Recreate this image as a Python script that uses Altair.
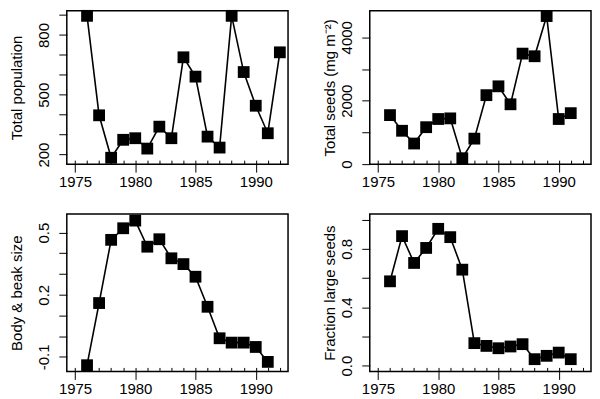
import altair as alt
import pandas as pd

years_a = [1976, 1977, 1978, 1979, 1980, 1981, 1982, 1983, 1984, 1985, 1986, 1987, 1988, 1989, 1990, 1991, 1992]
population = [896, 397, 184, 274, 282, 230, 340, 282, 688, 591, 290, 235, 896, 614, 445, 307, 713]

years_b = [1976, 1977, 1978, 1979, 1980, 1981, 1982, 1983, 1984, 1985, 1986, 1987, 1988, 1989, 1990, 1991]
seeds = [1546, 1052, 650, 1165, 1423, 1443, 186, 804, 2175, 2454, 1887, 3485, 3402, 4670, 1423, 1608]
body_beak = [-0.140, 0.160, 0.465, 0.521, 0.558, 0.432, 0.468, 0.376, 0.348, 0.287, 0.142, -0.010, -0.031, -0.031, -0.052, -0.124]
frac_large = [0.578, 0.888, 0.704, 0.807, 0.938, 0.881, 0.658, 0.154, 0.135, 0.119, 0.131, 0.147, 0.044, 0.067, 0.089, 0.044]

x_major = [1975, 1980, 1985, 1990]
x_minor = [1975, 1976, 1977, 1978, 1979, 1980, 1981, 1982, 1983, 1984, 1985, 1986, 1987, 1988, 1989, 1990, 1991, 1992]
pop_ticks = [200, 300, 400, 500, 600, 700, 800, 900]
seed_ticks = [0, 1000, 2000, 3000, 4000]
body_ticks = [-0.1, 0.0, 0.1, 0.2, 0.3, 0.4, 0.5]
frac_ticks = [0.0, 0.2, 0.4, 0.6, 0.8, 1.0]

FONT = "Liberation Sans"
X_SCALE = alt.Scale(domain=[1974.32, 1992.68], nice=False, zero=False)


def panel(years, values, title, domain, ticks, label_expr, title_pad, height):
    df = pd.DataFrame({"year": years, "v": values})
    y_enc = alt.Y(
        "v:Q",
        scale=alt.Scale(domain=domain, nice=False, zero=False),
        axis=alt.Axis(
            values=ticks, labelExpr=label_expr, title=title, grid=False,
            domain=False, tickSize=8, labelAngle=-90, labelAlign="center",
            labelBaseline="bottom", labelPadding=7.5, labelOverlap=False,
            titlePadding=title_pad,
        ),
    )
    x_major_enc = alt.X(
        "year:Q", scale=X_SCALE,
        axis=alt.Axis(
            values=x_major, format="d", orient="bottom",
            title=None, grid=False, domain=False, tickSize=8,
            labelPadding=2, labelOverlap=False, labelFlush=False,
        ),
    )
    x_minor_enc = alt.X(
        "year:Q", scale=X_SCALE,
        axis=alt.Axis(
            values=x_minor, labels=False, orient="bottom", offset=-4,
            title=None, grid=False, domain=False, tickSize=4,
        ),
    )
    line = alt.Chart(df).mark_line(color="black", strokeWidth=1.6).encode(x=x_major_enc, y=y_enc)
    pts = alt.Chart(df).mark_point(shape="square", filled=True, size=140, color="black", opacity=1).encode(
        x=x_minor_enc, y=y_enc
    )
    return alt.layer(line, pts).resolve_axis(x="independent").properties(width=222, height=height)


p1 = panel(years_a, population, "Total population", [152, 922], pop_ticks,
           "datum.value % 300 == 200 ? format(datum.value, 'd') : ''", 12, 154)
p2 = panel(years_b, seeds, "Total seeds (mg m⁻²)", [0, 4840], seed_ticks,
           "datum.value % 2000 == 0 ? format(datum.value, 'd') : ''", 2, 154)
p3 = panel(years_b, body_beak, "Body & beak size", [-0.17, 0.59], body_ticks,
           "(round(datum.value * 10) + 10) % 3 == 0 ? replace(format(datum.value, '.1f'), '\u2212', '-') : ''", 12, 158)
p4 = panel(years_b, frac_large, "Fraction large seeds", [-0.04, 1.04], frac_ticks,
           "round(datum.value * 10) % 4 == 0 ? format(datum.value, '.1f') : ''", 2, 158)

chart = alt.concat(p1, p2, p3, p4, columns=2, spacing=alt.RowColnumber(row=23, column=32)).properties(
    padding={"left": 0, "top": 0, "right": 0, "bottom": 0},
    background="white",
).configure_view(
    stroke="black", strokeWidth=1.5
).configure_axis(
    labelFont=FONT, labelFontSize=15, labelColor="black",
    titleFont=FONT, titleFontSize=15, titleFontWeight="normal", titleColor="black",
    tickColor="black", tickWidth=1,
)

chart.save("out.html", embed_options={"renderer": "svg", "actions": False})
